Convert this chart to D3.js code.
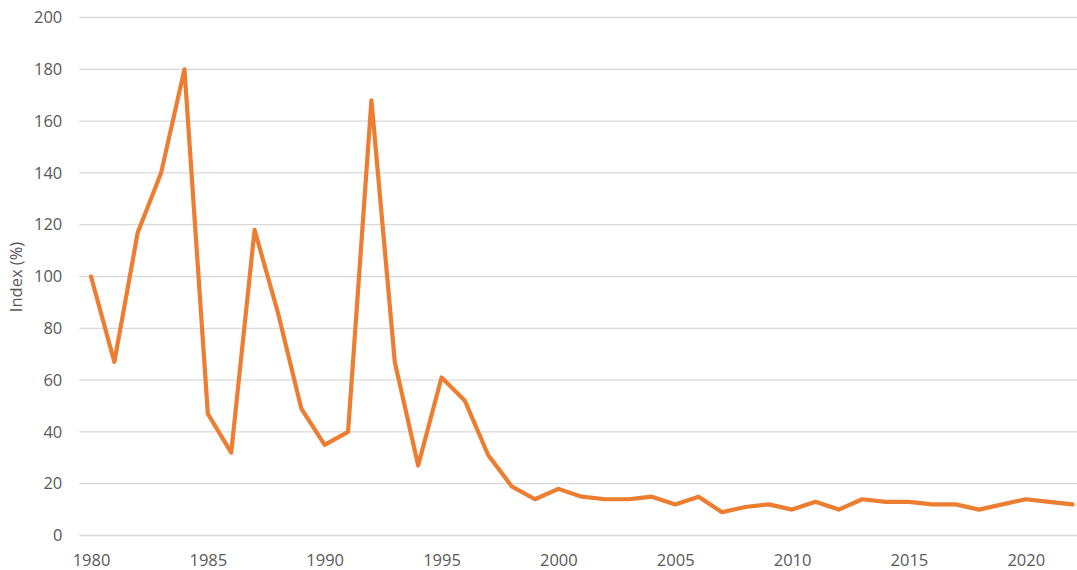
<!DOCTYPE html>
<html><head><meta charset="utf-8">
<script src="https://cdn.jsdelivr.net/npm/d3@7"></script>
<style>body{margin:0;background:#fff;} text{font-family:"Open Sans","Liberation Sans",sans-serif;}</style>
</head><body>
<svg id="c" width="1077" height="570"></svg>
<script>
const years = d3.range(1980, 2023);
const values = [100,67,117,140,180,47,32,118,86,49,35,40,168,67,27,61,52,31,19,14,18,15,14,14,15,12,15,9,11,12,10,13,10,14,13,13,12,12,10,12,14,13,12];
const yTicks = [0,20,40,60,80,100,120,140,160,180,200];
const xTicks = [1980,1985,1990,1995,2000,2005,2010,2015,2020];
const yTitle = "Index (%)";

const svg = d3.select("#c");
const x = d3.scaleLinear().domain([1980, 2022]).range([91, 1072.5]);
const y = d3.scaleLinear().domain([0, 200]).range([535.5, 17.5]);
const left = x(1980) - (x(1981)-x(1980))/2, right = x(2022) + (x(1981)-x(1980))/2;
const fs = 16.5;

svg.append("g").selectAll("line").data(yTicks).join("line")
  .attr("x1", left).attr("x2", right).attr("y1", d=>y(d)).attr("y2", d=>y(d))
  .attr("stroke", "#d9d9d9").attr("stroke-width", 1.3);

const ya = svg.append("g").attr("transform", `translate(${left},0)`)
  .call(d3.axisLeft(y).tickValues(yTicks).tickSize(0).tickPadding(17));
ya.select(".domain").remove();
ya.selectAll("text").attr("font-size", fs).attr("fill", "#595959").style("font-family", '"Open Sans","Liberation Sans",sans-serif');

const xa = svg.append("g").attr("transform", `translate(0,${y(0)})`)
  .call(d3.axisBottom(x).tickValues(xTicks).tickFormat(d3.format("d")).tickSize(0).tickPadding(19));
xa.select(".domain").remove();
xa.selectAll("text").attr("font-size", fs).attr("fill", "#595959").style("font-family", '"Open Sans","Liberation Sans",sans-serif');

svg.append("text").attr("transform", "translate(22,277) rotate(-90)")
  .attr("text-anchor", "middle").attr("font-size", fs).attr("fill", "#595959").text(yTitle);

svg.append("path").datum(values)
  .attr("fill", "none").attr("stroke", "#ED7D31").attr("stroke-width", 4.2)
  .attr("stroke-linejoin", "round").attr("stroke-linecap", "round")
  .attr("d", d3.line().x((d,i)=>x(years[i])).y(d=>y(d)));
</script>
</body></html>
